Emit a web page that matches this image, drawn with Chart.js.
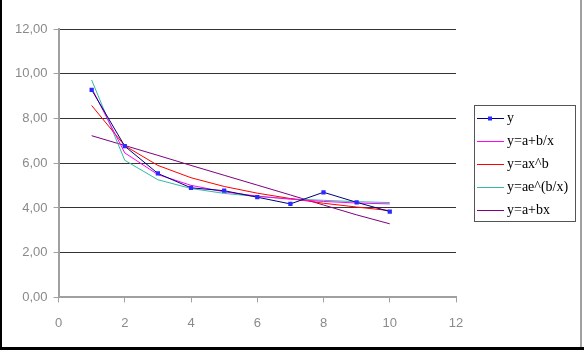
<!DOCTYPE html>
<html>
<head>
<meta charset="utf-8">
<script src="https://cdn.jsdelivr.net/npm/chart.js@4"></script>
<style>
  body { margin: 0; background: #fff; }
  canvas { display: block; }
</style>
</head>
<body>
<canvas id="chartjs-0" width="584" height="350"></canvas>
<script>
// x values and series
let xValues = [1, 2, 3, 4, 5, 6, 7, 8, 9, 10];
let yObserved = [9.28, 6.76, 5.54, 4.90, 4.77, 4.48, 4.18, 4.70, 4.25, 3.84];
let yHyperbolic = [9.36, 6.46, 5.49, 5.01, 4.72, 4.53, 4.39, 4.29, 4.22, 4.18];
let yPower = [8.58, 6.78, 5.90, 5.35, 4.96, 4.66, 4.42, 4.21, 4.04, 3.88];
let yExpInv = [9.72, 6.13, 5.26, 4.87, 4.65, 4.51, 4.41, 4.34, 4.28, 4.24];
let yLinear = [7.23, 6.79, 6.35, 5.90, 5.46, 5.02, 4.58, 4.13, 3.69, 3.29];
let seriesNames = ["y", "y=a+b/x", "y=ax^b", "y=ae^(b/x)", "y=a+bx"];
let seriesColors = ["#000080", "#ff00ff", "#ff0000", "#33bba0", "#800080"];

function toPoints(ys) {
    let pts = [];
    for (let i = 0; i < xValues.length; i++) {
        pts.push({ x: xValues[i], y: ys[i] });
    }
    return pts;
}

let allSeries = [yObserved, yHyperbolic, yPower, yExpInv, yLinear];
let datasets = [];
for (let i = 0; i < allSeries.length; i++) {
    datasets.push({
        label: seriesNames[i],
        data: toPoints(allSeries[i]),
        showLine: true,
        borderColor: seriesColors[i],
        borderWidth: 1,
        backgroundColor: i == 0 ? "#2a2aff" : seriesColors[i],
        pointStyle: "rect",
        pointRadius: i == 0 ? 3 : 0,
        pointBorderWidth: 0,
        tension: 0
    });
}

// frame lines and boxed legend like the spreadsheet chart
const framePlugin = {
    id: "frame",
    beforeDraw(chart) {
        let c = chart.ctx;
        c.save();
        c.fillStyle = "#fff";
        c.fillRect(0, 0, chart.width, chart.height);
        c.restore();
    },
    afterDraw(chart) {
        let c = chart.ctx;
        c.save();
        c.fillStyle = "#000";
        c.fillRect(0, 0, 2, 350);
        c.fillRect(0, 347, 584, 3);
        c.fillStyle = "#a0a0a0";
        c.fillRect(580, 0, 2, 347);

        // legend box
        c.fillStyle = "#fff";
        c.fillRect(474, 105, 102, 117);
        c.strokeStyle = "#555";
        c.lineWidth = 1;
        c.strokeRect(474.5, 105.5, 101, 116);
        c.font = "14px 'Liberation Serif'";
        c.textBaseline = "middle";
        for (let i = 0; i < chart.data.datasets.length; i++) {
            let ds = chart.data.datasets[i];
            let yy = 118.5 + i * 23;
            c.strokeStyle = ds.borderColor;
            c.beginPath();
            c.moveTo(477, yy);
            c.lineTo(504, yy);
            c.stroke();
            if (i == 0) {
                c.fillStyle = ds.backgroundColor;
                c.fillRect(488, yy - 2, 4, 4);
            }
            c.fillStyle = "#000";
            c.fillText(ds.label, 507, yy);
        }
        c.restore();
    }
};

let ctx = document.getElementById("chartjs-0");
let myChart = new Chart(ctx, {
    type: "scatter",
    data: { datasets: datasets },
    options: {
        responsive: false,
        animation: false,
        layout: { padding: { left: 9, right: 128, top: 29, bottom: 6 } },
        plugins: {
            legend: { display: false },
            tooltip: { enabled: false }
        },
        scales: {
            x: {
                type: "linear",
                min: 0,
                max: 12,
                ticks: {
                    stepSize: 2,
                    color: "#8a8a8a",
                    padding: 13,
                    font: { family: "'Liberation Sans'", size: 13 }
                },
                grid: {
                    drawOnChartArea: false,
                    drawTicks: true,
                    tickLength: 5,
                    tickColor: "#a0a0a0"
                },
                border: { color: "#a0a0a0", width: 2 }
            },
            y: {
                min: 0,
                max: 12,
                ticks: {
                    stepSize: 2,
                    color: "#8a8a8a",
                    padding: 6,
                    font: { family: "'Liberation Sans'", size: 13 },
                    callback: function (v) { return v.toFixed(2).replace(".", ","); }
                },
                grid: {
                    color: function (c) { return c.tick && c.tick.value == 0 ? "#a0a0a0" : "#333"; },
                    tickLength: 5,
                    tickColor: "#a0a0a0"
                },
                border: { color: "#a0a0a0", width: 2 }
            }
        }
    },
    plugins: [framePlugin]
});
</script>
</body>
</html>
